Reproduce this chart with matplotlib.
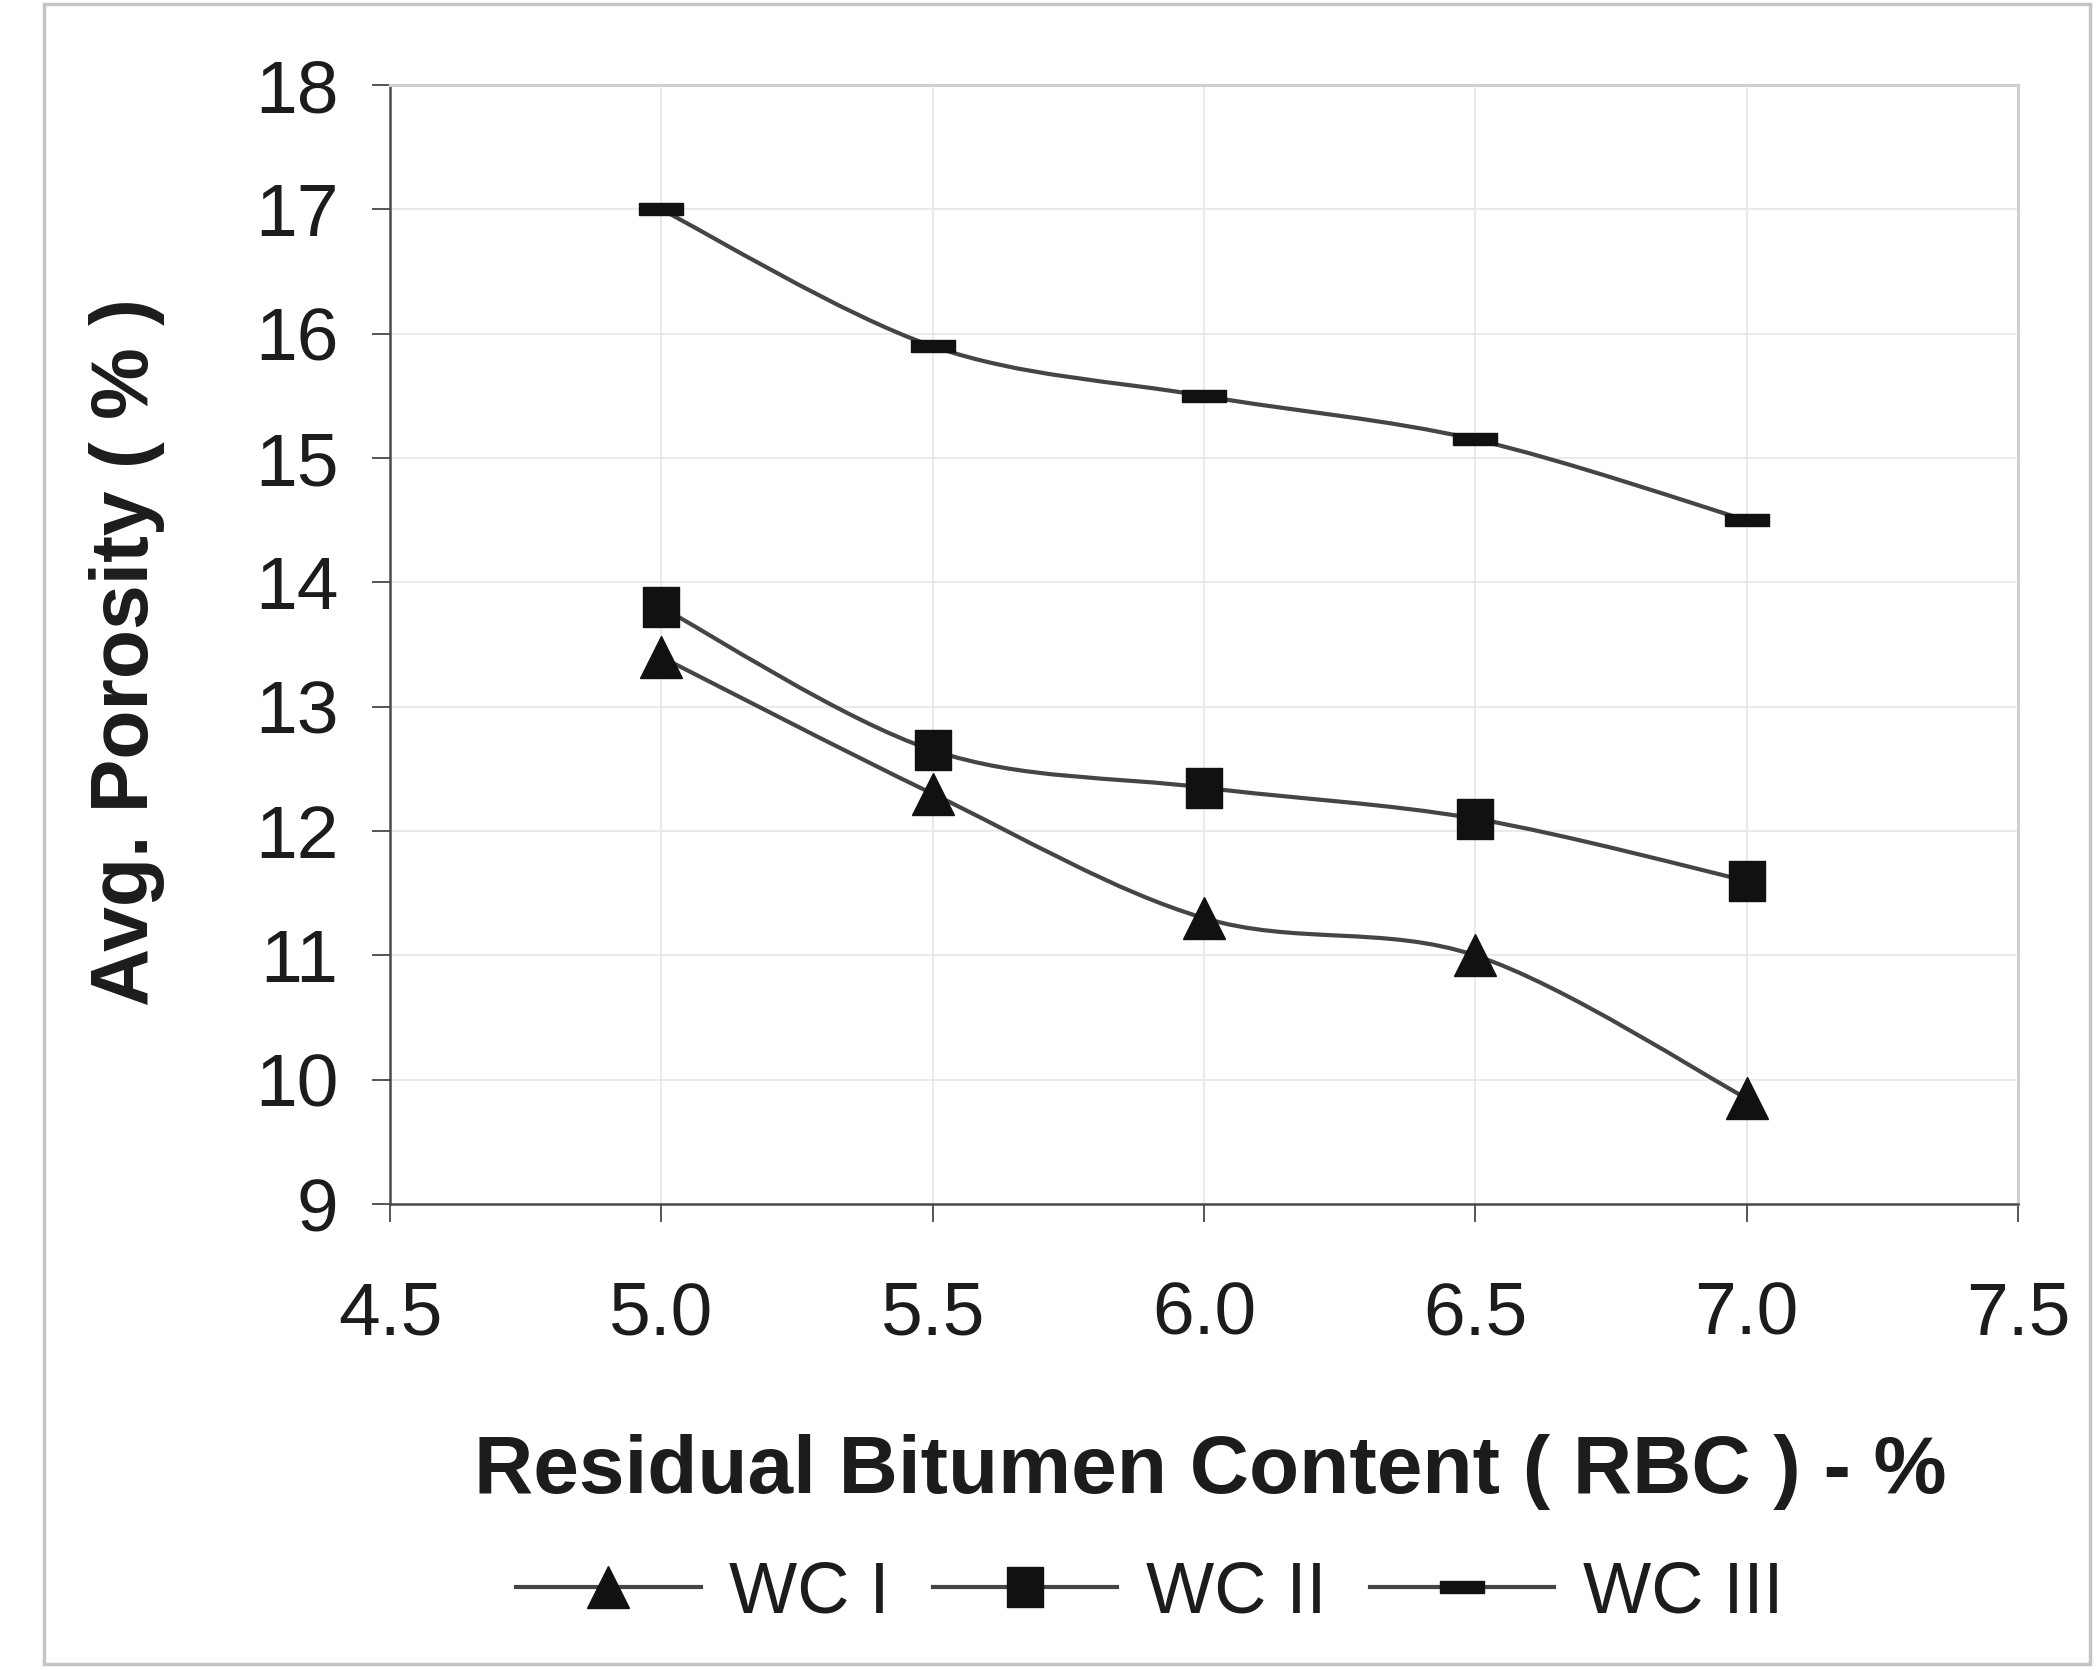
import matplotlib
matplotlib.use("Agg")
import matplotlib.pyplot as plt
from matplotlib.path import Path
from matplotlib.patches import PathPatch, Rectangle
from matplotlib.lines import Line2D
import numpy as np

plt.rcParams["font.family"] = ["Liberation Sans", "DejaVu Sans"]

# Residual bitumen content (%) and average porosity (%) per mix
rbc = [5.0, 5.5, 6.0, 6.5, 7.0]
wc1 = [13.4, 12.3, 11.3, 11.0, 9.85]
wc2 = [13.8, 12.65, 12.35, 12.1, 11.6]
wc3 = [17.0, 15.9, 15.5, 15.15, 14.5]
series_names = ["WC I", "WC II", "WC III"]

x_ticks = [4.5, 5.0, 5.5, 6.0, 6.5, 7.0, 7.5]
y_ticks = list(range(9, 19))

LINE_COLOR = "#454545"
MARK_COLOR = "#111111"
TEXT_COLOR = "#1c1c1c"

# marker shapes: triangle, slightly tall square, flat dash
tri_marker = "^"
sq_marker = [(-0.9, -1.0), (0.9, -1.0), (0.9, 1.0), (-0.9, 1.0), (-0.9, -1.0)]
dash_marker = [(-1.0, -0.26), (1.0, -0.26), (1.0, 0.26), (-1.0, 0.26), (-1.0, -0.26)]


def smooth_path(xs, ys):
    """Cubic Bezier through the points (Catmull-Rom style, like spreadsheet smoothing)."""
    p = np.column_stack([xs, ys]).astype(float)
    n = len(p)
    verts = [p[0]]
    codes = [Path.MOVETO]
    for i in range(n - 1):
        p0 = p[i - 1] if i > 0 else p[i]
        p1 = p[i]
        p2 = p[i + 1]
        p3 = p[i + 2] if i + 2 < n else p[i + 1]
        c1 = p1 + (p2 - p0) / 6.0
        c2 = p2 - (p3 - p1) / 6.0
        verts += [c1, c2, p2]
        codes += [Path.CURVE4] * 3
    return Path(verts, codes)


fig = plt.figure(figsize=(21, 16.7), dpi=100)
ax = fig.add_axes([0.1857, 0.279, 0.961 - 0.1857, 0.949 - 0.279])

ax.set_xlim(4.5, 7.5)
ax.set_ylim(9, 18)
ax.set_xticks(x_ticks)
ax.set_xticklabels([f"{v:.1f}" for v in x_ticks])
ax.set_yticks(y_ticks)
ax.set_yticklabels([str(v) for v in y_ticks])

ax.grid(True, color="#e8e8e8", linewidth=1.3)
ax.set_axisbelow(True)

for side in ("left", "bottom"):
    ax.spines[side].set_color("#4a4a4a")
    ax.spines[side].set_linewidth(1.8)
for side in ("top", "right"):
    ax.spines[side].set_color("#cfcfcf")
    ax.spines[side].set_linewidth(2.2)

ax.tick_params(axis="y", direction="out", length=13, width=1.4, color="#555555",
               labelsize=54, labelcolor=TEXT_COLOR, pad=24)
ax.tick_params(axis="x", direction="out", length=13, width=1.4, color="#555555",
               labelsize=54, labelcolor=TEXT_COLOR, pad=42)

styles = [
    (wc1, tri_marker, 30),
    (wc2, sq_marker, 29),
    (wc3, dash_marker, 32),
]

handles = []
for (vals, mk, ms), name in zip(styles, series_names):
    ax.add_patch(PathPatch(smooth_path(rbc, vals), transform=ax.transData,
                           fill=False, edgecolor=LINE_COLOR, linewidth=3.0,
                           capstyle="round", joinstyle="round", zorder=3))
    ax.plot(rbc, vals, linestyle="none", marker=mk, markersize=ms,
            markerfacecolor=MARK_COLOR, markeredgecolor=MARK_COLOR,
            markeredgewidth=1.0, zorder=4)
    handles.append(Line2D([], [], color=LINE_COLOR, linewidth=3.0, marker=mk,
                          markersize=ms, markerfacecolor=MARK_COLOR,
                          markeredgecolor=MARK_COLOR, label=name))

fig.text(127 / 2100, 1 - 652 / 1670, "Avg. Porosity ( % )", rotation=90,
         ha="center", va="center", fontsize=58, fontweight="bold", color=TEXT_COLOR)
fig.text(1210 / 2100, 1 - 1472 / 1670, "Residual Bitumen Content ( RBC ) - %",
         ha="center", va="center", fontsize=59, fontweight="bold", color=TEXT_COLOR)

fig.legend(handles=handles, loc="center", bbox_to_anchor=(1150 / 2100, 1 - 1594 / 1670),
           ncol=3, frameon=False, fontsize=52, handlelength=2.55, handletextpad=0.4,
           columnspacing=0.6, labelcolor=TEXT_COLOR, markerscale=1.0)

# chart area border
fig.add_artist(Rectangle((44 / 2100, 1 - 1664 / 1670), (2090 - 44) / 2100, (1664 - 4) / 1670,
                         transform=fig.transFigure, fill=False, edgecolor="#c4c4c4",
                         linewidth=2.5))

fig.savefig("out.png", dpi=100, facecolor="white")
